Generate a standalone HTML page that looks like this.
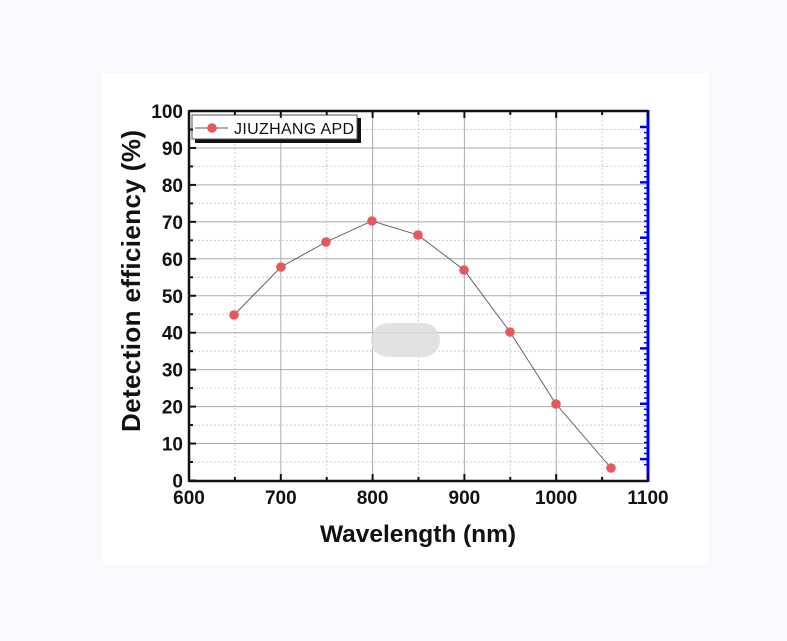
<!DOCTYPE html>
<html><head><meta charset="utf-8"><style>
body{margin:0;background:#f8f9fc;width:787px;height:641px;overflow:hidden}
svg{position:absolute;left:0;top:0}
text{font-family:"Liberation Sans",Arial,sans-serif;font-weight:bold;fill:#111}
</style></head><body>
<svg width="787" height="641" viewBox="0 0 787 641">
<rect x="103" y="73" width="605" height="492" fill="#fff"/>
<g id="grid"></g>
<g stroke="#555" stroke-width="0.9" fill="none">
<polyline points="234,315 281,267 326,242 372,221 418,235 464,270 510,332 556,404 611,468"/>
</g>
<g fill="#e5585e">
<circle cx="234" cy="315" r="4.8"/><circle cx="281" cy="267" r="4.8"/><circle cx="326" cy="242" r="4.8"/><circle cx="372" cy="221" r="4.8"/><circle cx="418" cy="235" r="4.8"/><circle cx="464" cy="270" r="4.8"/><circle cx="510" cy="332" r="4.8"/><circle cx="556" cy="404" r="4.8"/><circle cx="611" cy="468" r="4.8"/>
</g>
<rect x="371" y="323" width="69" height="34" rx="17" fill="#ddd" opacity="0.85"/>
<rect x="195" y="118" width="166" height="25" fill="#111"/>
<rect x="192" y="115" width="165" height="24" fill="#fff" stroke="#555" stroke-width="1"/>
<line x1="195" y1="128" x2="228" y2="128" stroke="#555" stroke-width="1"/>
<circle cx="212" cy="128" r="4.8" fill="#e5585e"/>
<text x="234" y="134" font-size="16" style="font-weight:normal" textLength="120">JIUZHANG APD</text>
<line x1="189" y1="111" x2="648" y2="111" stroke="#111" stroke-width="2.5"/>
<line x1="189" y1="110" x2="189" y2="482" stroke="#111" stroke-width="2.5"/>
<line x1="189" y1="481" x2="648" y2="481" stroke="#111" stroke-width="2.5"/>
<line x1="648" y1="110" x2="648" y2="482" stroke="#0000ee" stroke-width="3"/>
<g id="ticks"></g>
<g font-size="19" text-anchor="end" id="ylab"></g>
<g font-size="19" text-anchor="middle" id="xlab"></g>
<text x="418" y="542" font-size="24.5" text-anchor="middle" textLength="196">Wavelength (nm)</text>
<text transform="translate(140,281) rotate(-90)" font-size="26" text-anchor="middle" textLength="302">Detection efficiency (%)</text>
</svg>
<script>
var ns="http://www.w3.org/2000/svg";
function el(p,t,a,txt){var e=document.createElementNS(ns,t);for(var k in a)e.setAttribute(k,a[k]);if(txt!=null)e.textContent=txt;document.getElementById(p).appendChild(e);}
function X(v){return 189+(v-600)*0.918;}
function Y(v){return 480.5-v*3.695;}
for(var v=650;v<1100;v+=50){var maj=v%100==0;el("grid","line",{x1:X(v),x2:X(v),y1:112,y2:480,stroke:maj?"#aaa":"#ccc","stroke-width":1,"stroke-dasharray":maj?"":"2,2"});}
for(var v=5;v<100;v+=5){var maj=v%10==0;el("grid","line",{x1:190,x2:647,y1:Y(v),y2:Y(v),stroke:maj?"#aaa":"#ccc","stroke-width":1,"stroke-dasharray":maj?"":"2,2"});}
for(var v=600;v<=1100;v+=50){var maj=v%100==0;
 el("ticks","line",{x1:X(v),x2:X(v),y1:481,y2:maj?474:477,stroke:"#111","stroke-width":2});
 el("ticks","line",{x1:X(v),x2:X(v),y1:111,y2:maj?118:115,stroke:"#111","stroke-width":2});
 if(maj)el("xlab","text",{x:X(v),y:504},v);}
for(var v=0;v<=100;v+=5){var maj=v%10==0;
 el("ticks","line",{x1:189,x2:maj?196:193,y1:Y(v),y2:Y(v),stroke:"#111","stroke-width":2});
 if(maj)el("ylab","text",{x:183,y:Y(v)+7},v);}
for(var i=0;i<=61;i++){var y=127+i*5.535;if(y>480)break;var maj=i%10==0;
 el("ticks","line",{x1:648,x2:maj?640:644,y1:y,y2:y,stroke:"#0000ee","stroke-width":maj?2.5:1.5});}
</script>
</body></html>
